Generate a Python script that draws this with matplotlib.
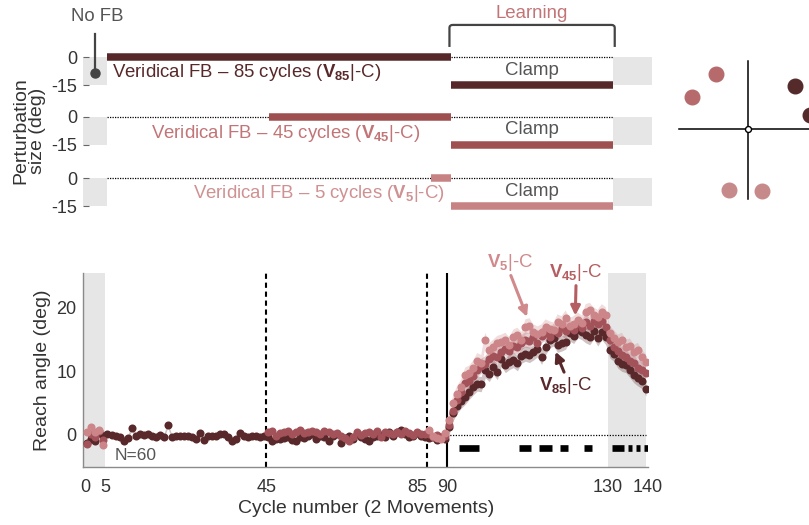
import numpy as np
import matplotlib
matplotlib.use("Agg")
import matplotlib.pyplot as plt
from matplotlib.path import Path
from matplotlib.patches import PathPatch

plt.rcParams['font.family'] = ['Liberation Sans', 'DejaVu Sans']
plt.rcParams['mathtext.fontset'] = 'custom'
plt.rcParams['mathtext.rm'] = 'Liberation Sans'
plt.rcParams['mathtext.bf'] = 'Liberation Sans:bold'
plt.rcParams['mathtext.it'] = 'Liberation Sans:italic'

W, H = 809, 525

# ---- design -----------------------------------------------------------
groups = ['85', '45', '5']            # veridical FB cycles per group
veridical_start = [5, 45, 85]
nofb_end, clamp_start, clamp_end, n_cycles = 5, 90, 130, 140
clamp_size = -15

# ---- reach angle per cycle (deg), nan = not shown ------------------
nan = np.nan
v85 = [-1.2, -0.7, -1.0, 0.3, -0.2,
       0.2, 0.0, -0.2, -0.4, -0.9, -0.5, 1.1, -0.1, 0.1, 0.0,
       0.1, -0.2, -0.4, 0.0, -0.3, 1.6, -0.4, -0.2, -0.1, -0.2,
       -0.1, -0.3, -0.7, 0.3, -0.8, -0.2, -0.1, -0.2, 0.1, 0.2,
       -0.3, -0.9, -0.6, 0.3, -0.2, -0.3, -0.2, -0.1, -0.3, -0.1,
       -0.4, -0.9, -0.6, -0.7, -0.5, -0.4, -0.8, -1.0, -0.3, -0.5,
       -0.2, 0.1, -0.6, -0.2, -0.4, -0.9, -0.1, 0.2, -1.3, -0.5,
       -0.2, -0.7, 0.1, -0.3, -0.6, -1.0, -0.4, -0.2, 0.0, -0.3,
       0.4, -0.1, 0.5, 0.8, 0.2, -0.3, -0.1, 0.3, -0.2, -0.4,
       -0.5, -0.3, -0.8, -0.4, -0.6,
       1.2, 3.4, 4.6, 5.4, 6.0, 6.8, 7.5, 8.1, 8.0, 10.2,
       9.6, 10.7, 9.9, 12.0, 11.0, 11.5, 11.8, 11.3, 12.5, 12.8,
       12.6, 13.0, 13.5, 12.3, 13.8, 14.9, 15.2, 14.2, 14.4, 14.7,
       16.0, 15.6, 16.5, 16.2, 15.7, 15.4, 16.3, 15.2, 16.2, 15.4,
       13.3, 12.8, 11.7, 11.2, 11.0, 10.2, 9.4, 8.9, 8.5, 7.3]

v45 = ([-1.5, 0.2, -0.3, 0.6, -0.8] + [nan] * 40 +
       [0.4, 0.7, -0.2, 0.3, 0.5, 0.6, 0.2, 0.4, 0.8, 0.3,
        0.5, 0.7, 0.4, 0.2, 0.6, 0.5, 0.1, 0.3, -0.2, -0.5,
        -0.9, -0.3, 0.4, 0.0, 0.3, 0.5, 0.2, 0.6, -0.4, 0.5,
        0.3, 0.1, 0.4, 0.2, 0.6, 0.3, 0.0, 0.4, 0.2, 0.1,
        0.2, -0.4, 0.0, -0.3, -0.1,
        1.5, 3.8, 5.5, 6.8, 8.2, 8.5, 9.3, 10.2, 10.8, 11.2,
        12.0, 12.5, 12.3, 13.0, 13.6, 13.2, 14.0, 13.8, 14.5, 15.0,
        14.8, 15.4, 14.5, 15.6, 16.0, 15.5, 16.3, 16.0, 16.8, 16.3,
        17.0, 16.5, 17.4, 16.8, 17.8, 17.2, 18.0, 17.4, 17.9, 17.0,
        15.0, 13.8, 13.2, 12.6, 12.2, 11.6, 11.3, 10.6, 10.3, 9.8])

v5 = ([0.4, 1.2, 0.5, 0.8, -1.6] + [nan] * 80 +
      [0.8, -0.2, -0.5, -0.6, 0.3,
       2.3, 5.0, 6.5, 7.5, 9.4, 9.7, 10.5, 11.7, 11.4, 14.9,
       13.3, 13.8, 14.4, 14.6, 14.9, 14.2, 15.4, 15.7, 15.0, 17.0,
       17.2, 16.2, 15.9, 16.2, 17.0, 16.7, 16.5, 17.8, 17.5, 18.4,
       17.2, 17.5, 18.1, 17.6, 19.4, 19.6, 18.9, 18.5, 19.4, 18.9,
       16.0, 15.3, 14.6, 14.9, 13.8, 14.0, 13.0, 13.3, 12.2, 11.5])

sem_baseline = [0.4, 0.4, 0.4]
sem_clamp = [1.2, 1.2, 1.2]

# cycles where groups differ
sig_spans = [(93, 98), (108, 111), (113, 116), (118, 120), (124, 126),
             (131, 134), (135, 136), (137, 138), (139, 140)]

# target directions (deg) for each group
target_angles = [[12.5, 42.5], [120.5, 150.5], [252.5, 282.5]]

# ---- colours ----------------------------------------------------------
col = ['#58282a', '#a4525a', '#cc8588']
col_bar = ['#56282a', '#9e4f50', '#c78283']
col_text = ['#58282a', '#c27577', '#cf9192']
col_label = ['#58282a', '#b55e61', '#d08a8c']
col_target = ['#552a2a', '#b66a6b', '#c78a8a']
gray_box = '#e6e6e6'
txt = '#333333'
fs = 13.4


def px_axes(fig, left, top, right, bottom):
    return fig.add_axes([left / W, 1 - bottom / H, (right - left) / W,
                         (bottom - top) / H])


def vlabel(g):
    return r'$\mathbf{V}_{\mathbf{' + g + r'}}$|-C'


fig = plt.figure(figsize=(W / 100, H / 100), dpi=100)

# ---- perturbation schedule -------------------------------------------
row_zero = [57.5, 116.8, 178.3]
deg_px = 1.85
rows = []
for i, g in enumerate(groups):
    y0 = row_zero[i]
    ax = px_axes(fig, 83, y0 - 5 * deg_px, 652, y0 + 20 * deg_px)
    rows.append(ax)
    ax.set_xlim(-0.86, 139.6)
    ax.set_ylim(-20, 5)
    for s in ax.spines.values():
        s.set_visible(False)
    ax.set_xticks([])
    ax.set_yticks([0, -15])
    ax.set_yticklabels(['0', '-15'], fontsize=13, color=txt)
    ax.tick_params(axis='y', direction='in', length=4, width=0.8,
                   color='#666666', pad=4)

    ax.fill_between([-0.86, nofb_end], clamp_size, 0, color=gray_box, lw=0)
    ax.fill_between([clamp_end, 139.6], clamp_size, 0, color=gray_box, lw=0)

    vs = veridical_start[i]
    if vs > nofb_end:
        ax.plot([nofb_end, vs], [0, 0], color='k', lw=0.9, ls=(0, (1, 1)))
    ax.plot([vs, clamp_start], [0, 0], color=col_bar[i], lw=5.4,
            solid_capstyle='butt')
    ax.plot([clamp_start, clamp_end], [0, 0], color='k', lw=0.9,
            ls=(0, (1, 1)))
    ax.plot([clamp_start, clamp_end], [clamp_size, clamp_size],
            color=col_bar[i], lw=5.4, solid_capstyle='butt')
    ax.text((clamp_start + clamp_end) / 2, -7, 'Clamp', ha='center',
            va='center', fontsize=fs, color='#555555')

    label = f'Veridical FB – {g} cycles (' + vlabel(g) + ')'
    if i == 0:
        ax.text(6.3, -8.3, label, ha='left', va='center', fontsize=fs,
                color=col_text[i])
    elif i == 1:
        ax.text(49.1, -8.9, label, ha='center', va='center', fontsize=fs,
                color=col_text[i])
    else:
        ax.text(88.5, -8.0, label, ha='right', va='center', fontsize=fs,
                color=col_text[i])

rows[1].set_ylabel('Perturbation\nsize (deg)', fontsize=14, color=txt,
                   labelpad=4, linespacing=1.0)

# "No FB" marker and learning bracket on the first row
r0 = rows[0]
r0.plot([2.0, 2.0], [12.6, -8.3], color='#444444', lw=1.6, clip_on=False)
r0.plot([2.0], [-8.3], 'o', color='#444444', ms=6.5, clip_on=False)
r0.text(2.6, 22, 'No FB', ha='center', va='center', fontsize=fs,
        color='#555555', clip_on=False)

bx0, bx1, by0, by1 = 89.6, 130.4, 5.7, 17.6
verts = [(bx0, by0), (bx0, by1 - 1.6), (bx0, by1), (bx0 + 0.8, by1),
         (bx1 - 0.8, by1), (bx1, by1), (bx1, by1 - 1.6), (bx1, by0)]
codes = [Path.MOVETO, Path.LINETO, Path.CURVE3, Path.CURVE3, Path.LINETO,
         Path.CURVE3, Path.CURVE3, Path.LINETO]
r0.add_patch(PathPatch(Path(verts, codes), fill=False, ec='#444444',
                       lw=1.6, clip_on=False))
r0.text((clamp_start + clamp_end) / 2, 23.8, 'Learning', ha='center',
        va='center', fontsize=fs, color=col_text[1], clip_on=False)

# ---- target layout ----------------------------------------------------
axt = px_axes(fig, 748 - 76.8, 129 - 76.8, 748 + 76.8, 129 + 76.8)
axt.set_xlim(-1.2, 1.2)
axt.set_ylim(-1.2, 1.2)
axt.axis('off')
axt.plot([-1.08, 1.2], [0, 0], color='k', lw=1.1)
axt.plot([0, 0], [-1.09, 1.06], color='k', lw=1.1)
axt.plot([0], [0], 'o', ms=4.3, mfc='white', mec='k', mew=1.0)
for i in range(3):
    a = np.deg2rad(target_angles[i])
    axt.plot(np.cos(a), np.sin(a), 'o', ms=10.5, color=col_target[i],
             clip_on=False)

# ---- reach angle --------------------------------------------------------
ax = px_axes(fig, 83.3, 273, 648, 466.7)
x = np.arange(1, n_cycles + 1) - 0.5
ax.set_xlim(-0.52, 139.6)
ax.set_ylim(-5, 25.5)

ax.axvspan(-0.52, nofb_end, color=gray_box, lw=0, zorder=0)
ax.axvspan(clamp_end, 139.6, color=gray_box, lw=0, zorder=0)
ax.axvline(45, color='k', lw=1.5, ls=(0, (2.5, 1.8)), zorder=1)
ax.axvline(85, color='k', lw=1.5, ls=(0, (2.5, 1.8)), zorder=1)
ax.axvline(90, color='k', lw=1.5, zorder=1)
ax.plot([90, 139.6], [0, 0], color='k', lw=0.9, ls=(0, (1, 1.2)), zorder=1)

for s, e in sig_spans:
    ax.plot([s, e], [-2, -2], color='k', lw=4.8, solid_capstyle='butt',
            zorder=1)

series = [np.array(v85), np.array(v45), np.array(v5)]
for i, y in enumerate(series):
    sem = np.where(x < clamp_start, sem_baseline[i], sem_clamp[i])
    ax.fill_between(x, y - sem, y + sem, color=col[i], alpha=0.28, lw=0,
                    zorder=2)
for i, y in enumerate(series):
    ax.plot(x, y, 'o', ms=5.8, color=col[i], mew=0, zorder=3 + i)

ax.set_xticks([0, 5, 45, 85, 90, 130, 140])
ax.set_yticks([0, 10, 20])
ax.tick_params(length=0, labelsize=13, colors=txt)
ax.tick_params(axis='x', pad=9)
ax.tick_params(axis='y', pad=5)
# keep "85" clear of "90"
ax.get_xticklabels()[3].set_horizontalalignment('right')
for side in ['top', 'right']:
    ax.spines[side].set_visible(False)
for side in ['left', 'bottom']:
    ax.spines[side].set_color('#8a8a8a')
    ax.spines[side].set_linewidth(1.0)
ax.set_xlabel('Cycle number (2 Movements)', fontsize=14, color=txt,
              labelpad=3)
ax.set_ylabel('Reach angle (deg)', fontsize=14, color=txt, labelpad=4)

ax.text(7.3, -3.2, 'N=60', ha='left', va='center', fontsize=12.5,
        color='#555555')

arrow = dict(arrowstyle='-|>', lw=2.2, mutation_scale=14,
             shrinkA=0, shrinkB=0)
ax.annotate(vlabel('5'), xy=(109.9, 18.6), xytext=(105.6, 27.2),
            fontsize=fs, color=col_label[2], ha='center', va='center',
            arrowprops=dict(arrow, color=col_label[2], relpos=(0.5, 0)),
            annotation_clip=False)
ax.annotate(vlabel('45'), xy=(121.9, 18.8), xytext=(122.1, 25.6),
            fontsize=fs, color=col_label[1], ha='center', va='center',
            arrowprops=dict(arrow, color=col_label[1], relpos=(0.5, 0)),
            annotation_clip=False)
ax.annotate(vlabel('85'), xy=(117.0, 13.1), xytext=(119.4, 7.8),
            fontsize=fs, color=col_label[0], ha='center', va='center',
            arrowprops=dict(arrow, color=col_label[0], relpos=(0.5, 1)),
            annotation_clip=False)

fig.savefig('out.png', dpi=100)
